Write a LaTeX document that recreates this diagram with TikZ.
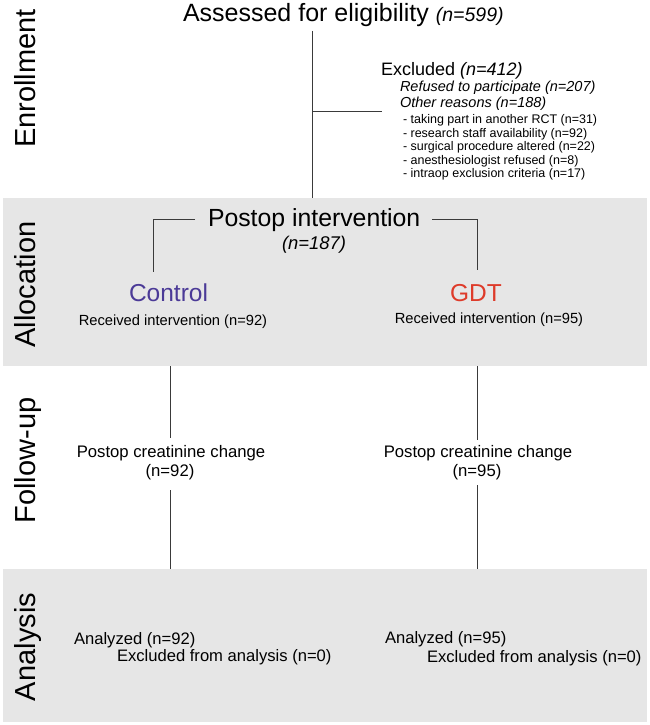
\documentclass[tikz,border=0pt]{standalone}
\usepackage{fontspec}
\setmainfont{Liberation Sans}
\definecolor{bandgray}{HTML}{E6E6E6}
\definecolor{ctlpurple}{HTML}{4B3A97}
\definecolor{gdtred}{HTML}{DE3B2A}
\definecolor{linegray}{HTML}{3A3A3A}
\begin{document}
\begin{tikzpicture}[x=1pt,y=-1pt,
  every node/.style={inner sep=0pt,outer sep=0pt},
  fsz/.style={font=\fontsize{#1}{#1}\selectfont},
  band/.style={fill=bandgray,draw=none,inner sep=0pt,anchor=north west},
  phase/.style={rotate=90,anchor=base,font=\fontsize{29}{29}\selectfont},
  lt/.style={anchor=base west},
  ct/.style={anchor=base},
  ln/.style={draw=linegray,line width=0.85pt}]
\useasboundingbox (0,0) rectangle (650,725);
\fill[white] (0,0) rectangle (650,725);
% bands
\node[band,minimum width=644pt,minimum height=168pt] (allocband) at (3,198) {};
\node[band,minimum width=644pt,minimum height=153pt] (anaband) at (3,569) {};
% phase labels
\node[phase] (penr) at (35,78.5) {Enrollment};
\node[phase] (palloc) at (35,284.5) {Allocation};
\node[phase] (pfol) at (35,460.5) {Follow-up};
\node[phase] (pana) at (35,647) {Analysis};
% enrollment
\node[lt,fsz=25] (assess) at (183,21.7) {Assessed for eligibility {\fontsize{19.5}{19.5}\selectfont\itshape (n=599)}};
\node[lt,fsz=18] (excl) at (381,75) {Excluded \textit{(n=412)}};
\node[lt,fsz=14.5] (refused) at (400,92) {\textit{Refused to participate (n=207)}};
\node[lt,fsz=14.5] (other) at (400,107) {\textit{Other reasons (n=188)}};
\node[lt,fsz=12.5] (r1) at (403,123.5) {- taking part in another RCT (n=31)};
\node[lt,fsz=12.5] (r2) at (403,137) {- research staff availability (n=92)};
\node[lt,fsz=12.5] (r3) at (403,150.5) {- surgical procedure altered (n=22)};
\node[lt,fsz=12.5] (r4) at (403,164) {- anesthesiologist refused (n=8)};
\node[lt,fsz=12.5] (r5) at (403,177.5) {- intraop exclusion criteria (n=17)};
\coordinate (stemtop) at (312,31);
\coordinate (brA) at (312,111);
\coordinate (brB) at (382,111);
\draw[ln] (stemtop) -- (stemtop |- allocband.north);
\draw[ln] (brA) -- (brB);
% allocation
\node[lt,fsz=24.8] (postop) at (208,226.7) {Postop intervention};
\node[ct,fsz=18.4] (n187) at (314,249) {\textit{(n=187)}};
\coordinate (bl1) at (195,219.3);
\coordinate (bl2) at (153,219.3);
\coordinate (bl3) at (153,272);
\coordinate (br1) at (432,219.3);
\coordinate (br2) at (477,219.3);
\coordinate (br3) at (477,270);
\draw[ln] (bl1) -- (bl2) -- (bl3);
\draw[ln] (br1) -- (br2) -- (br3);
\node[ct,fsz=24.5,text=ctlpurple] (ctl) at (168.5,301.7) {Control};
\node[ct,fsz=24.5,text=gdtred] (gdt) at (476,301.7) {GDT};
\node[ct,fsz=14.7] (recL) at (173,325) {Received intervention (n=92)};
\node[ct,fsz=14.7] (recR) at (489,323) {Received intervention (n=95)};
% follow-up
\node[ct,fsz=16.7] (crL) at (171,457) {Postop creatinine change};
\node[ct,fsz=16.7] (crLn) at (170,476.7) {(n=92)};
\node[ct,fsz=16.7] (crR) at (478,457) {Postop creatinine change};
\node[ct,fsz=16.7] (crRn) at (477,476.7) {(n=95)};
\coordinate (lA) at (170,438);
\coordinate (lB) at (170,490);
\coordinate (rA) at (477,440);
\coordinate (rB) at (477,485);
\draw[ln] (lA |- allocband.south) -- (lA);
\draw[ln] (lB) -- (lB |- anaband.north);
\draw[ln] (rA |- allocband.south) -- (rA);
\draw[ln] (rB) -- (rB |- anaband.north);
% analysis
\node[lt,fsz=16.6] (anaL) at (74,644) {Analyzed (n=92)};
\node[lt,fsz=16.6] (exL) at (117,661.7) {Excluded from analysis (n=0)};
\node[lt,fsz=16.6] (anaR) at (385,643) {Analyzed (n=95)};
\node[lt,fsz=16.6] (exR) at (427,662) {Excluded from analysis (n=0)};
\end{tikzpicture}
\end{document}
